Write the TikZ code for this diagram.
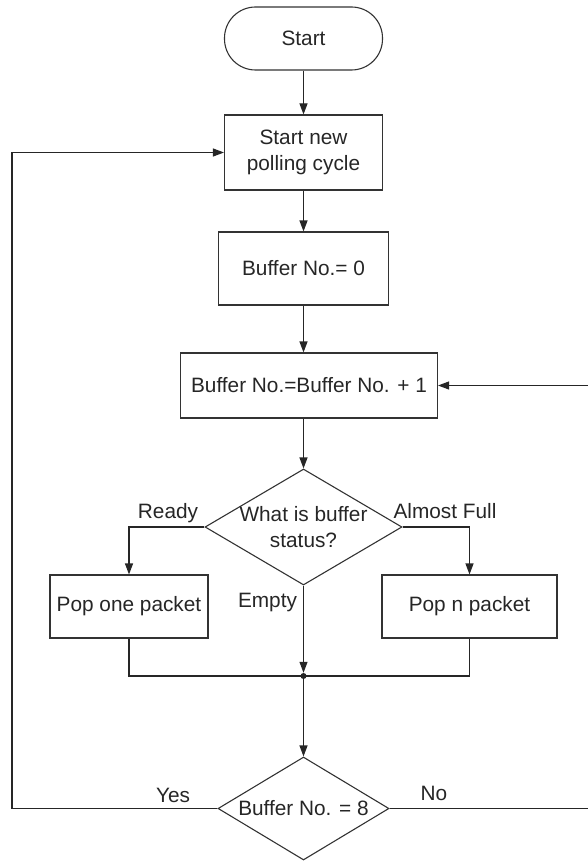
\documentclass[tikz,border=0pt]{standalone}
\usepackage{fontspec}
\setmainfont{Liberation Sans}
\usetikzlibrary{shapes.geometric,arrows.meta}

\begin{document}
\begin{tikzpicture}[x=1pt,y=-1pt,
  every node/.style={font=\fontsize{20.8}{25.5}\selectfont, text=black!85},
  outline/.style={draw=black!80, line width=1.1pt},
  terminal/.style={outline, rectangle, rounded corners=31pt, inner sep=0pt},
  procbox/.style={outline, rectangle, inner sep=0pt, align=center},
  decision/.style={outline, diamond, inner sep=0pt},
  dtext/.style={align=center, inner sep=0pt},
  flow/.style={draw=black!85, line width=1.1pt},
  arr/.style={flow, -{Triangle[length=11pt,width=8pt]}},
  junction/.style={circle, fill=black!85, inner sep=0pt, minimum size=6pt},
  tag/.style={inner sep=0pt},
]
\useasboundingbox (0,0) rectangle (587,861);

% process steps
\node[terminal, minimum width=158pt, minimum height=63pt] (start) at (303.5,38.5) {Start};
\node[procbox, minimum width=158pt, minimum height=75pt] (newcycle) at (303.5,152.5) {Start new\\polling cycle};
\node[procbox, minimum width=170pt, minimum height=73pt] (zero) at (303.5,268.5) {Buffer No.= 0};
\node[procbox, minimum width=257pt, minimum height=65pt] (incr) at (309,385.5) {Buffer No.=Buffer No. + 1};

% buffer status decision
\node[decision, minimum width=197pt, minimum height=116pt] (status) at (303.5,527) {};
\node[dtext] (statustext) at (status.center) {What is buffer\\status?};

\node[procbox, minimum width=158pt, minimum height=63pt] (popone) at (129,606.5) {Pop one packet};
\node[procbox, minimum width=175pt, minimum height=63pt] (popn) at (469.5,606.5) {Pop n packet};

\node[junction] (join) at (303.5,676) {};

% loop-end decision
\node[decision, minimum width=171pt, minimum height=103pt] (last) at (303.5,808.5) {};
\node[dtext] (lasttext) at (last.center) {Buffer No. = 8};

% side rails of the two loops
\coordinate (leftrail) at (12,0);
\coordinate (rightrail) at (590,0);

% main flow
\draw[arr] (start) -- (newcycle);
\draw[arr] (newcycle) -- (zero);
\draw[arr] (zero) -- (zero |- incr.north);
\draw[arr] (status |- incr.south) -- (status);

\draw[arr] (status.west) -| (popone.north);
\draw[arr] (status.east) -| (popn.north);
\draw[arr] (status.south) -- (join);
\draw[flow] (popone.south) |- (join.center);
\draw[flow] (popn.south) |- (join.center);
\draw[arr] (join.center) -- (last.north);

\draw[arr] (last.west) -- (last.west -| leftrail) |- (newcycle.west);
\draw[arr] (last.east) -- (last.east -| rightrail) |- (incr.east);

% branch labels
\node[tag] (lready) at (168,513) {Ready};
\node[tag] (lfull) at (445,511) {Almost Full};
\node[tag] (lempty) at (267.5,602) {Empty};
\node[tag] (lyes) at (173,795) {Yes};
\node[tag] (lno) at (434,793) {No};
\end{tikzpicture}
\end{document}
